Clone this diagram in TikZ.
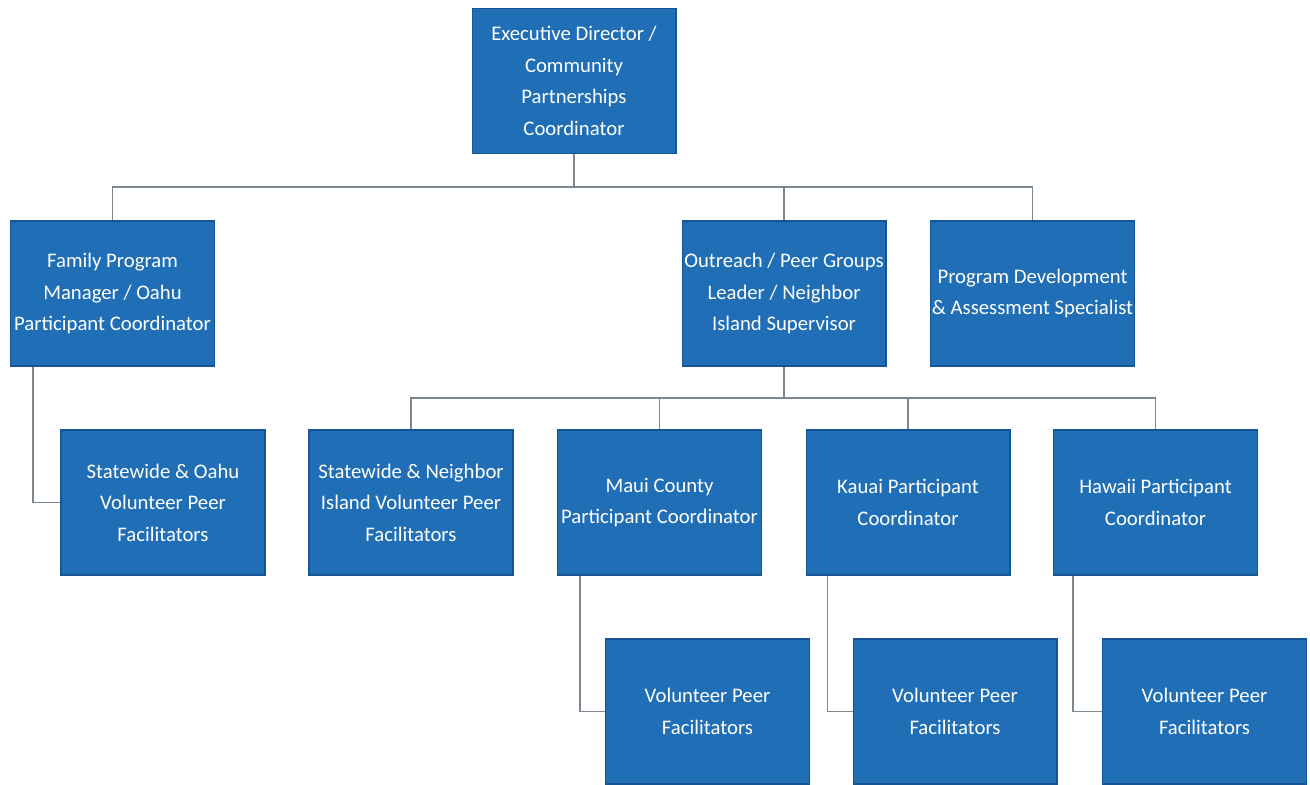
\documentclass[tikz,border=0pt]{standalone}
\usepackage{fontspec}
\setmainfont{Carlito}
\usepackage{tikz}
\definecolor{boxblue}{RGB}{31,110,182}
\definecolor{boxedge}{RGB}{22,84,148}
\definecolor{linkgray}{RGB}{125,135,145}

\begin{document}
\begin{tikzpicture}[x=0.02cm, y=-0.02cm,
  rolebox/.style={draw=boxedge, fill=boxblue, text=white, line width=0.6pt,
    minimum width=4.08cm, minimum height=2.9cm, inner sep=0pt, align=center,
    font=\fontsize{11.8}{18}\selectfont},
  link/.style={draw=linkgray, line width=0.8pt}]
  \useasboundingbox (0,0) rectangle (1310,784);

  % Ebene 1 und 2
  \node[rolebox] (exec) at (574,81) {Executive Director /\\Community\\Partnerships\\Coordinator};
  \node[rolebox] (family) at (112.5,293.5) {Family Program\\Manager / Oahu\\Participant Coordinator};
  \node[rolebox] (outreach) at (784,293.5) {Outreach / Peer Groups\\Leader / Neighbor\\Island Supervisor};
  \node[rolebox] (progdev) at (1032.5,293.5) {Program Development\\\& Assessment Specialist};

  % Ebene 3
  \node[rolebox] (swoahu) at (163,502.5) {Statewide \& Oahu\\Volunteer Peer\\Facilitators};
  \node[rolebox] (swneighbor) at (411,502.5) {Statewide \& Neighbor\\Island Volunteer Peer\\Facilitators};
  \node[rolebox] (maui) at (659.5,502.5) {Maui County\\Participant Coordinator};
  \node[rolebox] (kauai) at (908,502.5) {Kauai Participant\\Coordinator};
  \node[rolebox] (hawaii) at (1155.5,502.5) {Hawaii Participant\\Coordinator};

  % Ebene 4
  \node[rolebox] (volmaui) at (707.5,711.5) {Volunteer Peer\\Facilitators};
  \node[rolebox] (volkauai) at (955,711.5) {Volunteer Peer\\Facilitators};
  \node[rolebox] (volhawaii) at (1204.5,711.5) {Volunteer Peer\\Facilitators};

  % Verbindungen
  \coordinate (topbus) at (574,187);
  \coordinate (midbus) at (784,398);
  \draw[link] (exec.south) -- (topbus);
  \draw[link] (family.north) |- (topbus) -| (progdev.north);
  \draw[link] (outreach.north) |- (topbus);
  \draw[link] (outreach.south) -- (midbus);
  \draw[link] (swneighbor.north) |- (midbus) -| (hawaii.north);
  \draw[link] (maui.north) |- (midbus);
  \draw[link] (kauai.north) |- (midbus);
  \draw[link] ([xshift=0.46cm]family.south west) |- (swoahu.west);
  \draw[link] ([xshift=0.46cm]maui.south west) |- (volmaui.west);
  \draw[link] ([xshift=0.44cm]kauai.south west) |- (volkauai.west);
  \draw[link] ([xshift=0.40cm]hawaii.south west) |- (volhawaii.west);
\end{tikzpicture}
\end{document}
